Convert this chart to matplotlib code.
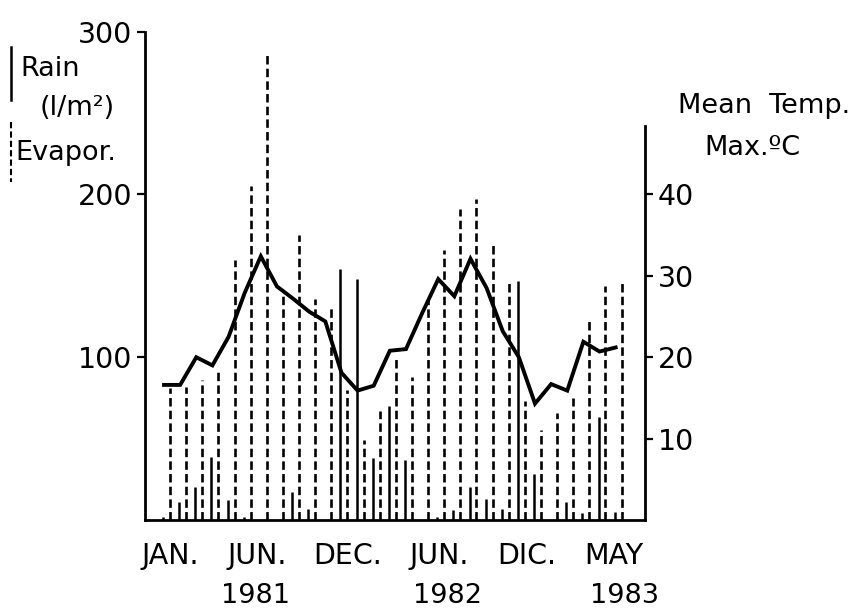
import numpy as np
import matplotlib.pyplot as plt
from matplotlib.lines import Line2D
from matplotlib.transforms import blended_transform_factory

# Monthly series, Jan 1981 - May 1983
months = np.arange(29)
evapor = [81, 82, 86, 92, 160, 205, 287, 139, 175, 136, 132, 80, 49, 67, 99,
          88, 135, 166, 191, 197, 170, 146, 73, 55, 66, 75, 123, 144, 147]
rain = [2, 11, 20, 39, 12, 2, 0, 0, 17, 7, 0, 154, 148, 38, 70,
        37, 0, 2, 6, 20, 13, 7, 147, 28, 0, 11, 4, 63, 5]
temp_max = [16.6, 16.6, 20.0, 19.0, 22.5, 27.9, 32.4, 28.7, 27.2, 25.6, 24.4,
            18.1, 15.9, 16.5, 20.8, 21.0, 25.4, 29.6, 27.5, 32.1, 28.5, 23.2,
            20.0, 14.3, 16.7, 15.9, 21.9, 20.7, 21.2]

month_ticks = [0, 5.4, 11, 16.7, 22.1, 27.5]
month_labels = ['JAN.', 'JUN.', 'DEC.', 'JUN.', 'DIC.', 'MAY']
year_pos = [5.3, 17.2, 28.2]
year_labels = ['1981', '1982', '1983']

W, H = 865, 614
fs = 20.5
plt.rcParams['font.family'] = 'DejaVu Sans'

fig = plt.figure(figsize=(W / 100, H / 100), dpi=100)
ax = fig.add_axes([145 / W, 1 - 520 / H, 500 / W, 488.3 / H])

# evaporation (dashed) and rain (solid) as vertical strokes
ax.vlines(months, 0, evapor, colors='black', linewidth=1.9,
          linestyles=(0, (3.2, 1.6)))
ax.vlines(months - 0.43, 0, rain, colors='black', linewidth=1.8)

ax.set_xlim(-1.55, 29.45)
ax.set_ylim(0, 300)
ax.set_yticks([100, 200, 300])
ax.tick_params(axis='y', direction='out', length=6, width=1.6, pad=3,
               labelsize=fs)
ax.set_xticks(month_ticks)
ax.set_xticklabels(month_labels)
ax.tick_params(axis='x', length=0, pad=16, labelsize=fs)
for s in ['top', 'right']:
    ax.spines[s].set_visible(False)
ax.spines['left'].set_linewidth(2)
ax.spines['bottom'].set_linewidth(2)

trans = blended_transform_factory(ax.transData, ax.transAxes)
for xp, lab in zip(year_pos, year_labels):
    ax.text(xp, -0.155, lab, transform=trans, ha='center', va='center',
            fontsize=19.5)

# temperature on its own axis
ax2 = ax.twinx()
ax2.plot(months - 0.37, temp_max, color='black', linewidth=2.8,
         solid_joinstyle='miter')
ax2.set_ylim(0, 60)
ax2.set_yticks([10, 20, 30, 40])
ax2.tick_params(axis='y', direction='out', length=6, width=1.6, pad=3,
                labelsize=fs)
for s in ['top', 'left', 'bottom']:
    ax2.spines[s].set_visible(False)
ax2.spines['right'].set_bounds(0, 48.4)
ax2.spines['right'].set_linewidth(2)

# axis captions
def px(x, y):
    return x / W, 1 - y / H

cap = 19.5
fig.text(*px(20, 69), 'Rain', fontsize=cap, va='center', ha='left')
fig.text(*px(40, 108), '(l/m²)', fontsize=cap, va='center', ha='left')
fig.text(*px(15, 153), 'Evapor.', fontsize=cap, va='center', ha='left')
fig.add_artist(Line2D([11 / W, 11 / W], [1 - 47 / H, 1 - 100 / H],
                      color='black', linewidth=1.8))
fig.add_artist(Line2D([11 / W, 11 / W], [1 - 122 / H, 1 - 182 / H],
                      color='black', linewidth=1.5, linestyle=(0, (3, 1.5))))

fig.text(*px(764, 106), 'Mean  Temp.', fontsize=cap, va='center', ha='center')
fig.text(*px(752, 148), 'Max.ºC', fontsize=cap, va='center', ha='center')

fig.savefig('out.png', dpi=100)
